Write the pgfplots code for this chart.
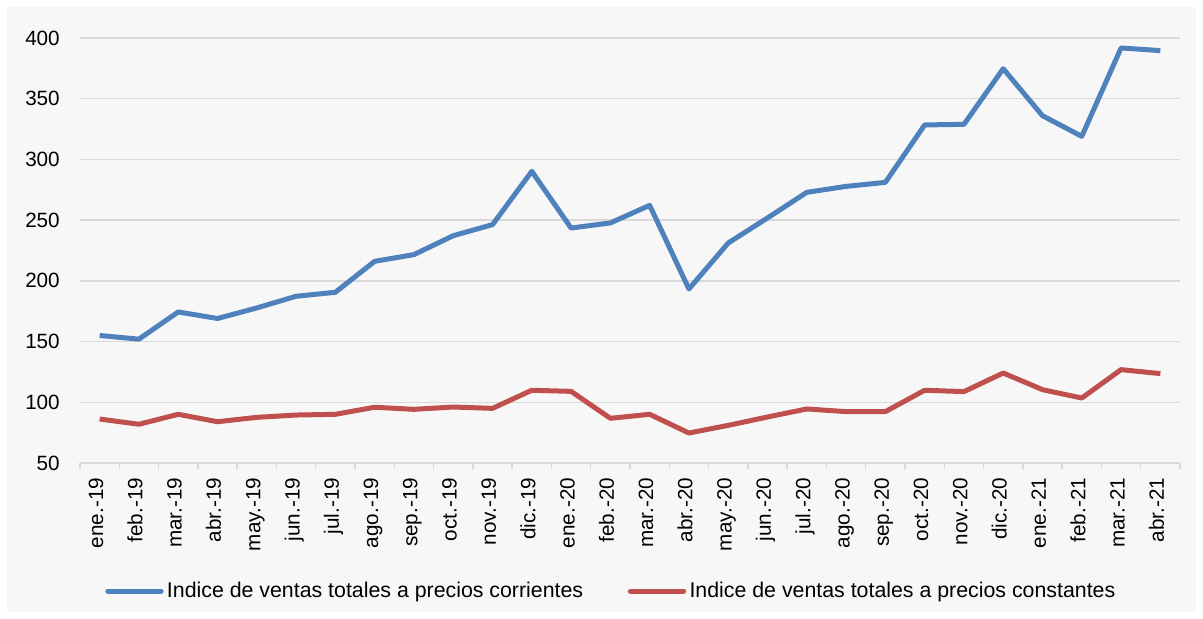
\documentclass[border=0pt]{standalone}
\usepackage{pgfplots}
\pgfplotsset{compat=1.18}
\usepackage{pgfplotstable}
\usepackage{fontspec}
\setmainfont{Liberation Sans}
\definecolor{bgpanel}{HTML}{F7F7F7}
\definecolor{gridc}{HTML}{D9D9D9}
\definecolor{blueS}{HTML}{4F81BD}
\definecolor{redS}{HTML}{C0504D}
\pgfplotstableread{
x blue red
0 155 86.2
1 152 81.9
2 174.4 90.1
3 169 84
4 177.7 87.6
5 187.3 89.5
6 190.6 90.1
7 216.1 95.9
8 221.6 94.2
9 237.2 96.1
10 246.3 95
11 290.2 109.9
12 243.5 109
13 247.7 86.8
14 262.2 90.1
15 193.3 74.7
16 231.2 81
17 251.8 87.9
18 272.9 94.5
19 277.8 92.3
20 281.1 92.3
21 328.4 109.9
22 328.9 108.8
23 374.7 124.1
24 336 110.4
25 319 103.5
26 391.8 126.9
27 389.6 123.6
}\datatable
\begin{document}
\begin{tikzpicture}
\fill[white] (0,0) rectangle (902.25pt,463.5pt);
\fill[bgpanel] (5.25pt,4.5pt) rectangle (897pt,458.25pt);
\begin{axis}[
  at={(60pt,116.25pt)}, anchor=south west,
  scale only axis, width=825pt, height=318.75pt,
  xmin=-0.5, xmax=27.5, ymin=50, ymax=400,
  ytick={50,100,...,400},
  xtick={0,...,27},
  xticklabels={ene.-19,feb.-19,mar.-19,abr.-19,may.-19,jun.-19,jul.-19,ago.-19,sep.-19,oct.-19,nov.-19,dic.-19,ene.-20,feb.-20,mar.-20,abr.-20,may.-20,jun.-20,jul.-20,ago.-20,sep.-20,oct.-20,nov.-20,dic.-20,ene.-21,feb.-21,mar.-21,abr.-21},
  minor xtick={-0.5,0.5,...,27.5},
  tick align=outside,
  major tick length=0pt,
  minor tick length=4.5pt,
  minor x tick style={gridc, line width=1.1pt},
  axis x line*=bottom, axis y line*=left,
  x axis line style={gridc, line width=1.1pt},
  y axis line style={draw=none},
  y tick style={draw=none},
  ymajorgrids, grid style={gridc, line width=1.1pt},
  /pgf/number format/assume math mode=true,
  tick label style={font=\fontsize{15.5pt}{18pt}\selectfont, black},
  xticklabel style={rotate=90, anchor=east, inner sep=0pt, text height=0.72em, text depth=0.2em},
  xticklabel shift=11pt,
  yticklabel style={inner sep=0pt, xshift=-15pt},
  legend columns=2,
  legend style={at={(axis description cs:0.4836,-0.3012)}, anchor=center, draw=none, fill=none,
    font=\fontsize{16pt}{18pt}\selectfont,
    nodes={inner sep=2.5pt},
    /tikz/every even column/.append style={column sep=31pt}},
  legend image code/.code={\draw[line cap=round] (0pt,0pt) -- (40pt,0pt);},
]
\addplot[blueS, line width=3.75pt, line join=round] table[x=x, y=blue] {\datatable};
\addlegendentry{Indice de ventas totales a precios corrientes}
\addplot[redS, line width=3.75pt, line join=round] table[x=x, y=red] {\datatable};
\addlegendentry{Indice de ventas totales a precios constantes}
\end{axis}
\pgfresetboundingbox
\path[use as bounding box] (0,0) rectangle (902.25pt,463.5pt);
\end{tikzpicture}
\end{document}
